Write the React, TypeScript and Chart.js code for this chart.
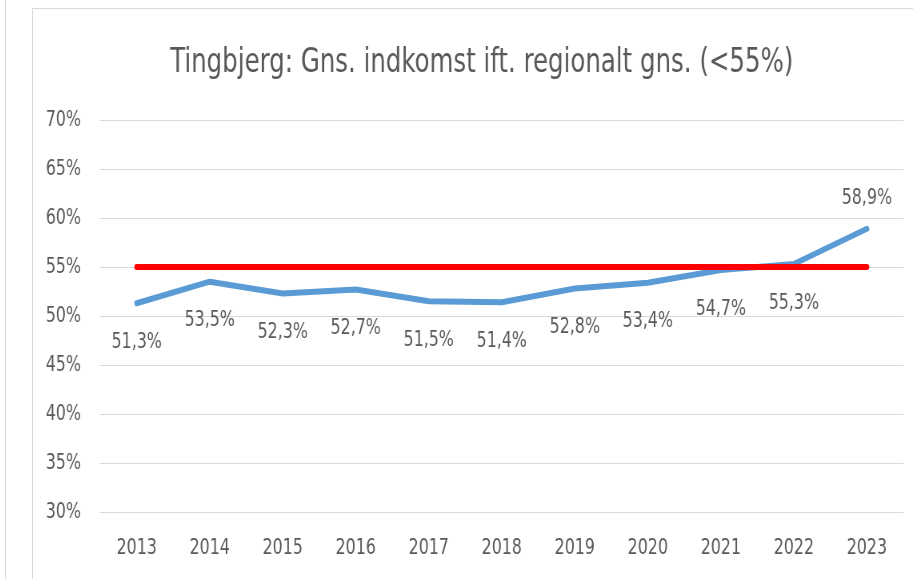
import React, { useEffect, useRef } from "react";
import { Chart, registerables } from "chart.js";

Chart.register(...registerables);

const years = ["2013", "2014", "2015", "2016", "2017", "2018", "2019", "2020", "2021", "2022", "2023"];
const incomeShare = [51.3, 53.5, 52.3, 52.7, 51.5, 51.4, 52.8, 53.4, 54.7, 55.3, 58.9];
const threshold = [55, 55, 55, 55, 55, 55, 55, 55, 55, 55, 55];
const titleText = "Tingbjerg: Gns. indkomst ift. regionalt gns. (<55%)";

const FONT = "'DejaVu Sans Condensed', 'Liberation Sans Narrow', sans-serif";
const TEXT = "#595959";

// canvas is drawn wider than shown and squeezed horizontally (narrow, tall text like the original)
const CSS_W = 880;
const CSS_H = 570;
const SX = 0.8;
const INT_W = Math.round(CSS_W / SX);

const fmt = (v: number) => v.toFixed(1).replace(".", ",") + "%";

const labelPlugin = {
  id: "pointLabels",
  afterDatasetsDraw(chart: any) {
    const meta = chart.getDatasetMeta(1);
    const ctx = chart.ctx;
    ctx.save();
    ctx.font = `22px ${FONT}`;
    ctx.fillStyle = TEXT;
    ctx.textAlign = "center";
    ctx.textBaseline = "middle";
    const n = meta.data.length;
    meta.data.forEach((pt: any, i: number) => {
      const dy = i === n - 1 ? -30 : 39;
      ctx.fillText(fmt(incomeShare[i]), pt.x, pt.y + dy);
    });
    ctx.restore();
  },
};

const titlePlugin = {
  id: "offsetTitle",
  afterDraw(chart: any) {
    const ctx = chart.ctx;
    ctx.save();
    ctx.font = `34px ${FONT}`;
    ctx.fillStyle = TEXT;
    ctx.textAlign = "center";
    ctx.textBaseline = "middle";
    ctx.fillText(titleText, chart.width * 0.51, 54);
    ctx.restore();
  },
};

export default function App() {
  const ref = useRef<HTMLCanvasElement | null>(null);
  useEffect(() => {
    if (!ref.current) return;
    const chart = new Chart(ref.current, {
      type: "line",
      data: {
        labels: years,
        datasets: [
          {
            label: "Grænse",
            data: threshold,
            borderColor: "#FF0000",
            borderWidth: 6,
            borderCapStyle: "round",
            pointRadius: 0,
            tension: 0,
            order: 0,
          },
          {
            label: "Tingbjerg",
            data: incomeShare,
            borderColor: "#5B9BD5",
            borderWidth: 6,
            borderCapStyle: "round",
            borderJoinStyle: "round",
            pointRadius: 0,
            tension: 0,
            order: 1,
          },
        ],
      },
      options: {
        animation: false,
        responsive: false,
        maintainAspectRatio: false,
        devicePixelRatio: 1,
        layout: { padding: { left: 16, right: 12, top: 111, bottom: 0 } },
        plugins: {
          legend: { display: false },
          tooltip: { enabled: false },
          title: { display: false },
        },
        scales: {
          x: {
            offset: true,
            grid: { display: false, drawTicks: false },
            border: { display: false },
            ticks: { color: TEXT, font: { family: FONT, size: 22 }, padding: 23, maxRotation: 0, autoSkip: false },
            afterFit: (s: any) => {
              s.height = 67;
            },
          },
          y: {
            min: 30,
            max: 70,
            grid: { color: "#d9d9d9", lineWidth: 1, drawTicks: false },
            border: { display: false },
            ticks: {
              stepSize: 5,
              color: TEXT,
              font: { family: FONT, size: 22 },
              padding: 24,
              callback: (v: any) => v + "%",
            },
            afterFit: (s: any) => {
              s.width = 68;
            },
          },
        },
      },
      plugins: [labelPlugin, titlePlugin],
    } as any);
    return () => chart.destroy();
  }, []);

  return (
    <div style={{ position: "fixed", left: 0, top: 0, width: 913, height: 579, background: "#fff", overflow: "hidden" }}>
      <div style={{ position: "absolute", left: 5, top: 0, width: 1, height: 579, background: "#d9d9d9" }} />
      <div
        style={{
          position: "absolute",
          left: 32,
          top: 8,
          width: 900,
          height: 600,
          border: "1px solid #d9d9d9",
          boxSizing: "border-box",
        }}
      />
      <canvas
        ref={ref}
        width={INT_W}
        height={CSS_H}
        style={{ position: "absolute", left: 33, top: 9, width: CSS_W, height: CSS_H }}
      />
    </div>
  );
}
